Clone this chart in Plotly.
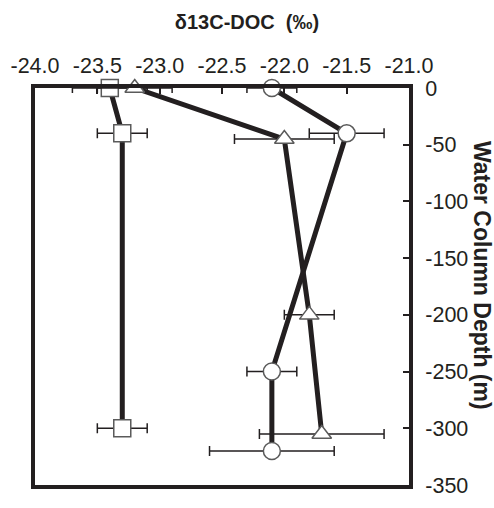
import plotly.graph_objects as go

# δ13C of DOC (per mil) against water column depth (m) for three profiles
square_x = [-23.4, -23.3, -23.3]
square_depth = [0, -40, -300]
square_err = [0.3, 0.2, 0.2]

circle_x = [-22.1, -21.5, -22.1, -22.1]
circle_depth = [0, -40, -250, -320]
circle_err = [0.2, 0.3, 0.2, 0.5]

triangle_x = [-23.2, -22.0, -21.8, -21.7]
triangle_depth = [0, -45, -200, -305]
triangle_err = [0.3, 0.4, 0.2, 0.5]

x_ticks = [-24.0, -23.5, -23.0, -22.5, -22.0, -21.5, -21.0]
x_ticktext = ["-24.0", "-23.5", "-23.0", "-22.5", "-22.0", "-21.5", "-21.0"]
y_ticks = [0, -50, -100, -150, -200, -250, -300, -350]
y_ticktext = ["0", "-50", "-100", "-150", "-200", "-250", "-300", "-350"]

INK = "#231f20"
EDGE = "#5a5a5a"
FONT = "Liberation Sans, Arial, sans-serif"
TICKFONT = dict(family=FONT, size=21.5, color=INK)


def profile(xs, ys, errs, symbol):
    return go.Scatter(
        x=xs, y=ys, mode="lines+markers",
        line=dict(color=INK, width=5),
        marker=dict(symbol=symbol, size=17, color="white",
                    line=dict(color=EDGE, width=1.5)),
        error_x=dict(type="data", array=errs, color=INK,
                     thickness=1.5, width=5),
        showlegend=False, cliponaxis=False,
    )


fig = go.Figure()
fig.add_trace(profile(square_x, square_depth, square_err, "square"))
fig.add_trace(profile(triangle_x, triangle_depth, triangle_err, "triangle-up"))
fig.add_trace(profile(circle_x, circle_depth, circle_err, "circle"))

fig.update_layout(
    width=494, height=508,
    margin=dict(l=35, r=85, t=88, b=10),
    paper_bgcolor="white", plot_bgcolor="white",
    font=dict(family=FONT, color=INK, size=19),
    title=dict(text="<b>δ13C-DOC  (‰)</b>", xref="container", x=0.5,
               xanchor="center", yref="container", y=1 - 22 / 508,
               yanchor="middle", font=dict(size=20, color=INK)),
    xaxis=dict(
        side="top", range=[-24, -21], tickvals=x_ticks, ticktext=x_ticktext,
        tickfont=TICKFONT,
        ticks="inside", ticklen=6, tickwidth=1.5, tickcolor=INK,
        showline=True, linewidth=4, linecolor=INK, mirror=True,
        showgrid=False, zeroline=False, ticklabelstandoff=2,
    ),
    yaxis=dict(
        side="right", range=[-350, 0], tickvals=y_ticks, ticktext=y_ticktext,
        tickfont=TICKFONT,
        ticks="inside", ticklen=6, tickwidth=1.5, tickcolor=INK,
        showline=True, linewidth=4, linecolor=INK, mirror=True,
        showgrid=False, zeroline=False, ticklabelstandoff=8,
    ),
    annotations=[dict(
        text="<b>Water Column Depth (m)</b>", textangle=90,
        xref="paper", yref="paper", x=1, y=(498 - 281) / 410,
        xanchor="center", yanchor="middle", xshift=73, showarrow=False,
        font=dict(size=23, color=INK, family=FONT),
    )],
)

fig.write_html("out.html")
